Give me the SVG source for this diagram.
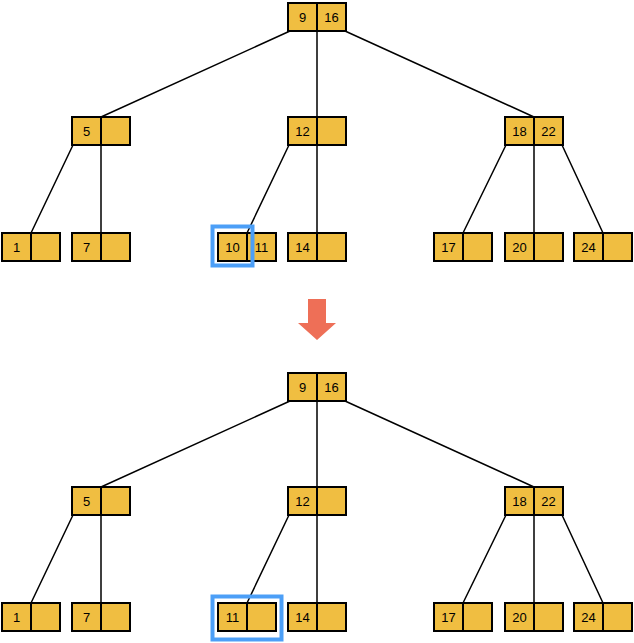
<svg xmlns="http://www.w3.org/2000/svg" width="634" height="643" viewBox="0 0 634 643">
<style>
.c{fill:#F0BE41;stroke:#000;stroke-width:2}
.t{font-family:"Liberation Sans",Arial,sans-serif;font-size:13px;fill:#000;text-anchor:middle;dominant-baseline:central}
.e{stroke:#000;stroke-width:1.5;fill:none}
.h{fill:none;stroke:#4C9FF7;stroke-width:4}
</style>
<defs>
<g id="node"><rect class="c" x="0" y="0" width="29" height="28"/><rect class="c" x="29" y="0" width="29" height="28"/></g>
</defs>
<g id="connectors">
<path class="e" d="M290 31L101 117M317 31V117M345 31L534 117M73 145L31 233M101 145V233M289 145L247 233M317 145V233M506 145L463 233M534 145V233M562 145L603 233"/>
<path class="e" d="M290 401L101 487M317 401V487M345 401L534 487M73 515L31 603M101 515V603M289 515L247 603M317 515V603M506 515L463 603M534 515V603M562 515L603 603"/>
</g>
<g id="top-root"><use href="#node" x="288" y="3"/><text class="t" x="302.5" y="17">9</text><text class="t" x="331.5" y="17">16</text></g>
<g id="top-n5"><use href="#node" x="72" y="117"/><text class="t" x="86.5" y="131">5</text></g>
<g id="top-n12"><use href="#node" x="288" y="117"/><text class="t" x="302.5" y="131">12</text></g>
<g id="top-n18"><use href="#node" x="505" y="117"/><text class="t" x="519.5" y="131">18</text><text class="t" x="548.5" y="131">22</text></g>
<g id="top-l1"><use href="#node" x="2" y="233"/><text class="t" x="16.5" y="247">1</text></g>
<g id="top-l7"><use href="#node" x="72" y="233"/><text class="t" x="86.5" y="247">7</text></g>
<g id="top-l10"><use href="#node" x="218" y="233"/><text class="t" x="232.5" y="247">10</text><text class="t" x="261.5" y="247">11</text></g>
<g id="top-l14"><use href="#node" x="288" y="233"/><text class="t" x="302.5" y="247">14</text></g>
<g id="top-l17"><use href="#node" x="434" y="233"/><text class="t" x="448.5" y="247">17</text></g>
<g id="top-l20"><use href="#node" x="505" y="233"/><text class="t" x="519.5" y="247">20</text></g>
<g id="top-l24"><use href="#node" x="574" y="233"/><text class="t" x="588.5" y="247">24</text></g>
<g id="top-highlight"><rect class="h" x="212.5" y="226.5" width="40" height="39"/></g>
<g id="arrow"><path d="M308 299H326V323H336L317 340L298 323H308Z" fill="#EE6F57"/></g>
<g id="bot-root"><use href="#node" x="288" y="373"/><text class="t" x="302.5" y="387">9</text><text class="t" x="331.5" y="387">16</text></g>
<g id="bot-n5"><use href="#node" x="72" y="487"/><text class="t" x="86.5" y="501">5</text></g>
<g id="bot-n12"><use href="#node" x="288" y="487"/><text class="t" x="302.5" y="501">12</text></g>
<g id="bot-n18"><use href="#node" x="505" y="487"/><text class="t" x="519.5" y="501">18</text><text class="t" x="548.5" y="501">22</text></g>
<g id="bot-l1"><use href="#node" x="2" y="603"/><text class="t" x="16.5" y="617">1</text></g>
<g id="bot-l7"><use href="#node" x="72" y="603"/><text class="t" x="86.5" y="617">7</text></g>
<g id="bot-l11"><use href="#node" x="218" y="603"/><text class="t" x="232.5" y="617">11</text></g>
<g id="bot-l14"><use href="#node" x="288" y="603"/><text class="t" x="302.5" y="617">14</text></g>
<g id="bot-l17"><use href="#node" x="434" y="603"/><text class="t" x="448.5" y="617">17</text></g>
<g id="bot-l20"><use href="#node" x="505" y="603"/><text class="t" x="519.5" y="617">20</text></g>
<g id="bot-l24"><use href="#node" x="574" y="603"/><text class="t" x="588.5" y="617">24</text></g>
<g id="bot-highlight"><rect class="h" x="212.5" y="596.5" width="69" height="43"/></g>
</svg>
